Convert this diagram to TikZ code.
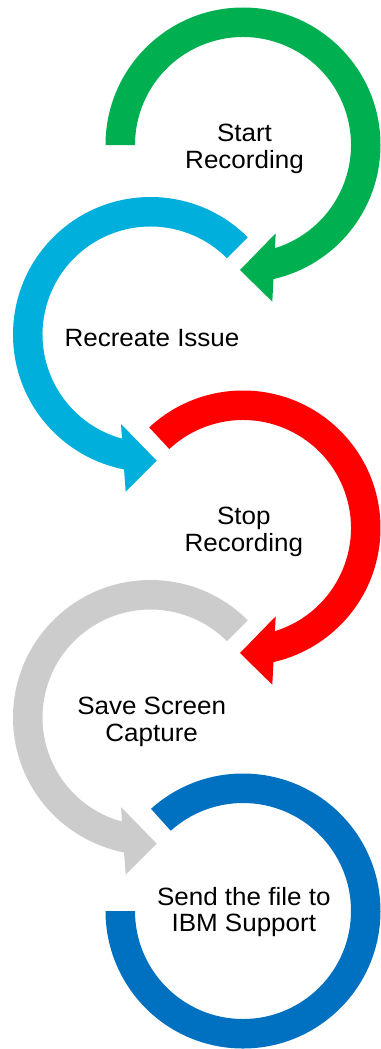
\documentclass[tikz,border=0pt]{standalone}
\usepackage{fontspec}
\setmainfont{Liberation Sans}[FakeStretch=1.04]

\definecolor{stepgreen}{HTML}{00B050}
\definecolor{stepcyan}{HTML}{00AFDB}
\definecolor{stepred}{HTML}{FF0000}
\definecolor{stepgrey}{HTML}{CCCCCC}
\definecolor{stepblue}{HTML}{0070C0}

\tikzset{
  steptext/.style={font=\fontsize{25}{26.7}\selectfont, align=center,
    inner sep=0pt, anchor=north, text=black},
}

% ring arrow around the local origin: runs clockwise from #1 and ends in a head
% #3/#4: end angles of the outer/inner edge, #5 outer barb, #6 tip, #7 inner barb
\newcommand\ringarrow[7]{%
  \fill[#2] (#1:137.5) arc[start angle=#1, end angle=#3, radius=137.5pt]
    -- #5 -- #6 -- #7
    -- (#4:108) arc[start angle=#4, end angle=#1, radius=108pt] -- cycle;}
\newcommand\headright[2]{\ringarrow{#1}{#2}{-77.2}{-72.8}{(29.3,-156.7)}{(-3,-125)}{(32.7,-88.3)}}
\newcommand\headleft[2]{\ringarrow{#1}{#2}{-78.9}{-74.7}{(24.8,-157.2)}{(-6.2,-126.2)}{(29.5,-89.5)}}

\begin{document}
\begin{tikzpicture}[x=1pt,y=1pt]
\useasboundingbox (0,0) rectangle (380,-1049);

% step 1
\begin{scope}[shift={(243,-145)}]
  \headright{180}{stepgreen}
\end{scope}
% step 2 (mirrored)
\begin{scope}[shift={(150.5,-334.5)}, xscale=-1]
  \headleft{135}{stepcyan}
\end{scope}
% step 3
\begin{scope}[shift={(243,-528)}]
  \headright{133}{stepred}
\end{scope}
% step 4 (mirrored)
\begin{scope}[shift={(150.5,-717.5)}, xscale=-1]
  \headleft{135}{stepgrey}
\end{scope}
% step 5: open ring without a head
\begin{scope}[shift={(243,-911)}]
  \fill[stepblue] (132:137.5) arc[start angle=132, end angle=-180, radius=137.5pt]
    -- (180:108) arc[start angle=-180, end angle=132, radius=108pt] -- cycle;
\end{scope}

\node[steptext] (t1) at (244.5,-124) {Start\\Recording};
\node[steptext] (t2) at (152,-329.3) {Recreate Issue};
\node[steptext] (t3) at (243.8,-507) {Stop\\Recording};
\node[steptext] (t4) at (151.7,-696.7) {Save Screen\\Capture};
\node[steptext] (t5) at (243.8,-886.7) {Send the file to\\IBM Support};
\end{tikzpicture}
\end{document}
